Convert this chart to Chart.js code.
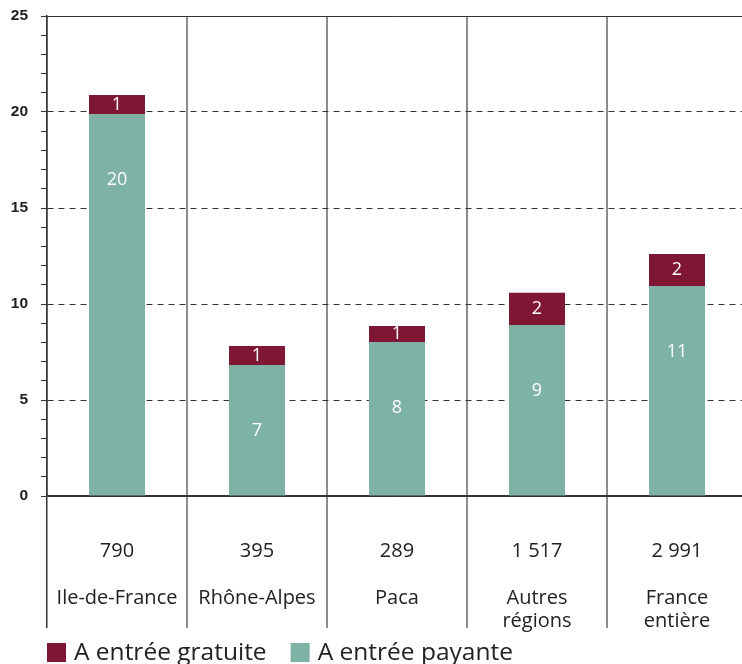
<!DOCTYPE html>
<html>
<head>
<meta charset="utf-8">
<script src="https://cdn.jsdelivr.net/npm/chart.js@4/dist/chart.umd.min.js"></script>
<style>
  html, body { margin: 0; padding: 0; background: #fff; overflow: hidden; }
  #wrap { width: 742px; height: 664px; overflow: hidden; }
</style>
</head>
<body>
<div id="wrap"><canvas id="chart" width="747" height="664"></canvas></div>
<script>
// --- data ---
const regions = ['Ile-de-France', 'Rhône-Alpes', 'Paca', ['Autres', 'régions'], ['France', 'entière']];
const totals = ['790', '395', '289', '1 517', '2 991'];
const payante = [19.9, 6.82, 8.02, 8.91, 10.94];
const gratuite = [0.99, 0.99, 0.83, 1.68, 1.67];
const yTicks = [0, 5, 10, 15, 20, 25];

const GRATUITE_COLOR = '#7f1734';
const PAYANTE_COLOR = '#7db2a5';
const INK = '#222';

// x tick labels: number on top, blank line, then region name (1 or 2 lines)
const xLabels = regions.map((r, i) => [totals[i], ''].concat(r));

// white value labels inside the bars
const barLabels = {
  id: 'barLabels',
  afterDatasetsDraw(chart) {
    const ctx = chart.ctx;
    ctx.save();
    ctx.fillStyle = '#fff';
    ctx.font = '18px "Open Sans"';
    ctx.textAlign = 'center';
    ctx.textBaseline = 'middle';
    chart.data.datasets.forEach((ds, di) => {
      chart.getDatasetMeta(di).data.forEach((bar, i) => {
        const txt = String(Math.round(ds.data[i]));
        const y = ds.label === 'A entrée payante' ? bar.y + 66 : (bar.y + bar.base) / 2;
        ctx.fillText(txt, bar.x, y);
      });
    });
    ctx.restore();
  }
};

// legend along the bottom, gratuite first
const bottomLegend = {
  id: 'bottomLegend',
  afterDraw(chart) {
    const ctx = chart.ctx;
    ctx.save();
    ctx.font = '24.5px "Open Sans"';
    ctx.textBaseline = 'alphabetic';
    let x = chart.chartArea.left;
    chart.data.datasets.slice().reverse().forEach(ds => {
      ctx.fillStyle = ds.backgroundColor;
      ctx.fillRect(x, 643, 19, 19);
      ctx.fillStyle = INK;
      ctx.fillText(ds.label, x + 27, 660);
      x += 27 + ctx.measureText(ds.label).width + 24;
    });
    ctx.restore();
  }
};

new Chart(document.getElementById('chart'), {
  type: 'bar',
  data: {
    labels: xLabels,
    datasets: [
      { label: 'A entrée payante', data: payante, backgroundColor: PAYANTE_COLOR, barPercentage: 0.4, categoryPercentage: 1 },
      { label: 'A entrée gratuite', data: gratuite, backgroundColor: GRATUITE_COLOR, barPercentage: 0.4, categoryPercentage: 1 }
    ]
  },
  options: {
    responsive: false,
    animation: false,
    devicePixelRatio: 1,
    layout: { padding: { top: 16, left: 0, right: 0, bottom: 0 } },
    plugins: { legend: { display: false }, tooltip: { enabled: false } },
    scales: {
      x: {
        stacked: true,
        afterFit: (scale) => { scale.height = 168; },
        grid: {
          offset: true,
          color: (c) => c.index === 0 ? '#333' : '#8c8c8c',
          lineWidth: (c) => c.index === 0 ? 1.5 : 2,
          tickLength: 132
        },
        border: { display: true, color: '#333', width: 1.5 },
        ticks: {
          autoSkip: false,
          maxRotation: 0,
          padding: -88.75,
          color: INK,
          font: { family: '"Open Sans"', size: 20, lineHeight: 1.175 }
        }
      },
      y: {
        stacked: true,
        min: 0,
        max: 25,
        afterFit: (scale) => {
          scale.width = 47;
          scale.paddingTop = 0;
          scale.paddingBottom = 0;
        },
        grid: {
          color: (c) => (c.tick && yTicks.includes(c.tick.value)) ? '#333' : 'rgba(0,0,0,0)',
          lineWidth: 1,
          tickColor: '#333',
          tickLength: 6
        },
        border: {
          display: true,
          color: '#333',
          width: 1.5,
          dash: (c) => (c.tick && c.tick.value > 0 && c.tick.value < 25) ? [6, 5] : []
        },
        ticks: {
          autoSkip: false,
          stepSize: 1,
          padding: 13,
          color: INK,
          font: { family: '"Liberation Sans"', size: 15.5, weight: 'bold' },
          callback: (v) => yTicks.includes(v) ? String(v) : ''
        }
      }
    }
  },
  plugins: [barLabels, bottomLegend]
});
</script>
</body>
</html>
